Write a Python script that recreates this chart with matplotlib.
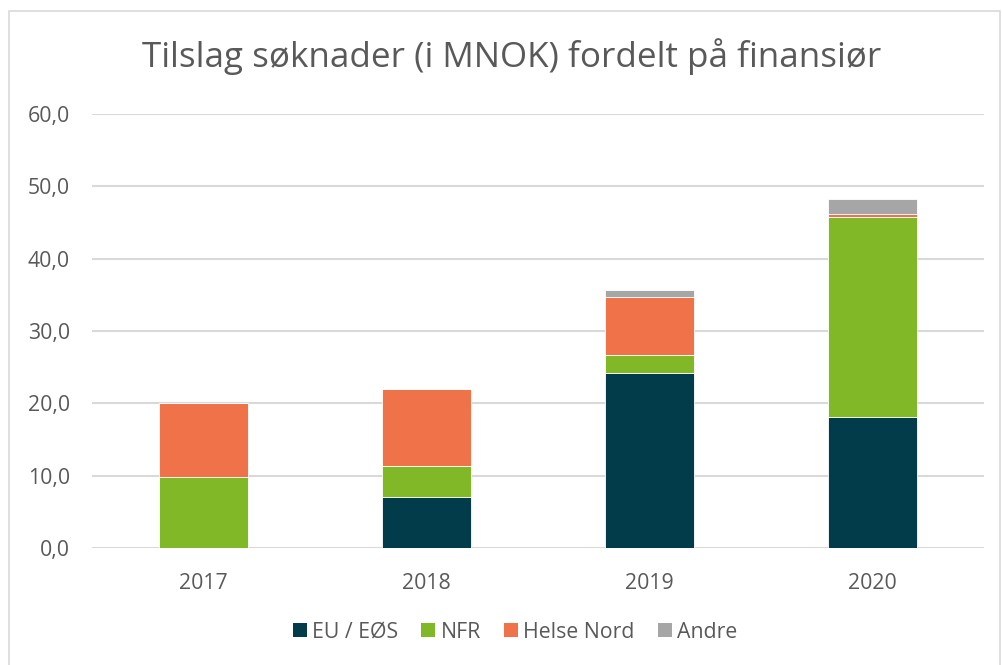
import matplotlib
matplotlib.use("Agg")
import matplotlib.pyplot as plt
from matplotlib.patches import Rectangle, Patch
import numpy as np

# Data
years = ["2017", "2018", "2019", "2020"]
eu_eos = [0.0, 7.0, 24.2, 18.1]
nfr = [9.8, 4.4, 2.5, 27.6]
helse_nord = [10.2, 10.6, 8.0, 0.5]
andre = [0.0, 0.0, 0.9, 2.1]

series = [
    ("EU / EØS", eu_eos, "#023B4A"),
    ("NFR", nfr, "#80B828"),
    ("Helse Nord", helse_nord, "#F07249"),
    ("Andre", andre, "#A6A6A6"),
]

plt.rcParams['font.family'] = ['Open Sans', 'DejaVu Sans']
text_col = "#595959"

fig = plt.figure(figsize=(10.02, 6.65), dpi=100)
W, H = 1002, 665

# chart border
fig.patches.append(Rectangle((9 / W, -0.01), (1000 - 9) / W, 1 - 11 / H + 0.01,
                             transform=fig.transFigure, fill=False,
                             edgecolor="#D9D9D9", linewidth=1.2))

ax = fig.add_axes([92 / W, (H - 548) / H, (984 - 92) / W, (548 - 114) / H])

x = np.arange(len(years))
bottom = np.zeros(len(years))
for name, vals, col in series:
    vals = np.array(vals)
    ax.bar(x, vals, width=0.40, bottom=bottom, color=col,
           edgecolor="white", linewidth=0.6, label=name, zorder=3)
    bottom += vals

ax.set_xlim(-0.5, 3.5)
ax.set_ylim(0, 60)
ax.set_yticks(np.arange(0, 61, 10))
ax.set_yticklabels([f"{v:.1f}".replace(".", ",") for v in range(0, 61, 10)])
ax.set_xticks(x)
ax.set_xticklabels(years)
ax.tick_params(axis="both", length=0, colors=text_col, labelsize=15.3)
ax.tick_params(axis="y", pad=16)
ax.tick_params(axis="x", pad=18)
ax.grid(axis="y", color="#D9D9D9", linewidth=1.5, zorder=0)
for s in ax.spines.values():
    s.set_visible(False)

fig.text(512 / W, 1 - 57 / H, "Tilslag søknader (i MNOK) fordelt på finansiør",
         ha="center", va="center", fontsize=25.2, color=text_col)

handles = [Patch(facecolor=c, edgecolor="none") for _, _, c in series]
labels = [n for n, _, _ in series]
fig.legend(handles, labels, loc="center", bbox_to_anchor=(515 / W, 1 - 632 / H),
           ncol=4, frameon=False, fontsize=15.3, labelcolor=text_col,
           handlelength=0.65, handleheight=0.65, handletextpad=0.25,
           columnspacing=1.1)

fig.savefig("out.png", dpi=100)
